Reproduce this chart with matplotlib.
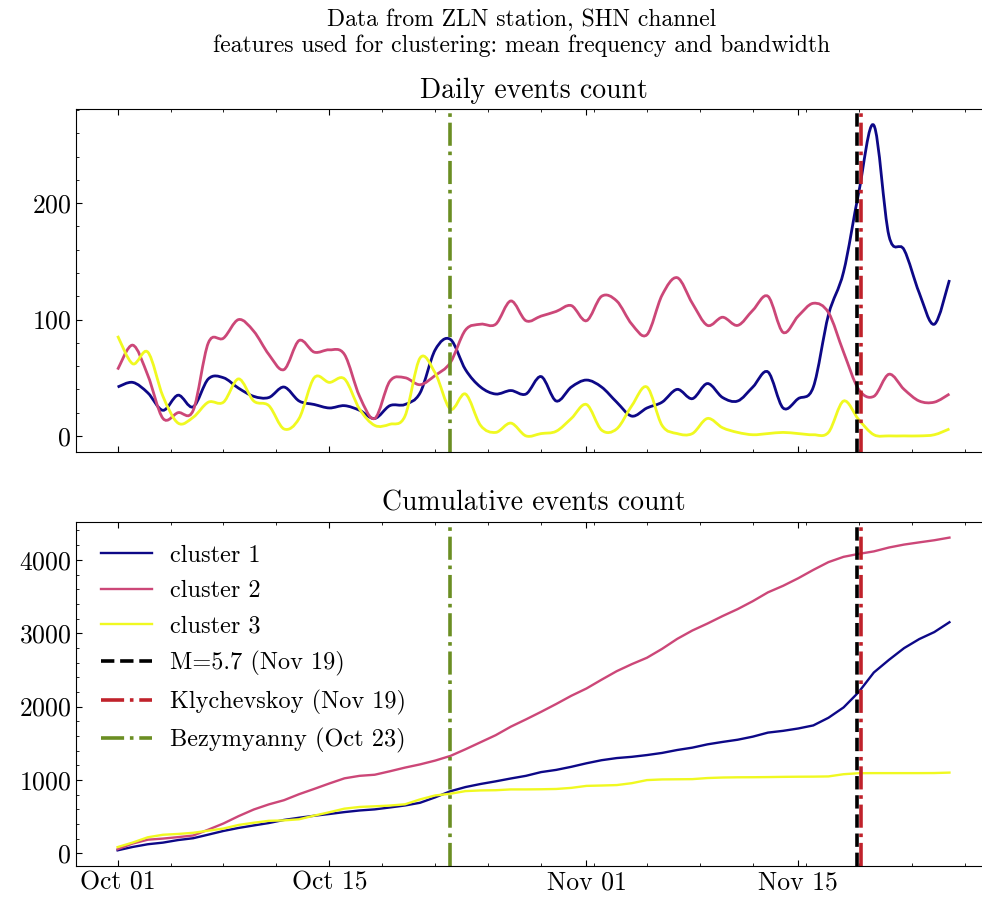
import numpy as np
import pandas as pd
import matplotlib
matplotlib.use("Agg")
import matplotlib.pyplot as plt
import matplotlib.dates as mdates
from matplotlib.path import Path
from matplotlib.patches import PathPatch
from matplotlib.ticker import AutoMinorLocator

# daily event counts per cluster, Oct 01 .. Nov 25
start_date = "2023-10-01"
cluster1 = [42, 46, 37, 22, 35, 25, 49, 50, 41, 34, 33, 42, 30, 27, 24,
            26, 22, 15, 26, 27, 37, 74, 83, 57, 42, 36, 39, 36, 51,
            30, 42, 48, 42, 29, 17, 24, 29, 40, 32, 45, 33, 30, 42,
            55, 24, 32, 42, 104, 141, 209, 267, 172, 160, 123, 96, 134]
cluster2 = [57, 78, 52, 15, 20, 22, 80, 84, 100, 90, 70, 57, 82, 72, 74,
            70, 34, 15, 47, 50, 44, 52, 63, 91, 96, 96, 116, 99, 103,
            107, 112, 99, 120, 116, 96, 87, 121, 136, 114, 95, 102, 95, 108,
            120, 89, 103, 114, 106, 72, 40, 34, 53, 40, 30, 29, 36]
cluster3 = [86, 62, 72, 34, 11, 16, 29, 29, 49, 30, 26, 6, 15, 50, 46,
            49, 23, 9, 10, 17, 67, 54, 23, 36, 9, 3, 11, 0, 2,
            4, 15, 27, 5, 6, 26, 42, 9, 2, 2, 15, 7, 3, 1,
            2, 3, 2, 1, 3, 30, 14, 1, 0, 0, 0, 1, 6]
labels = ["cluster 1", "cluster 2", "cluster 3"]
colors = ["#0d0887", "#cc4778", "#f0f921"]

events = ["M=5.7 (Nov 19)", "Klychevskoy (Nov 19)", "Bezymyanny (Oct 23)"]
event_times = ["2023-11-18 22:00", "2023-11-19 03:00", "2023-10-23 00:00"]
event_colors = ["black", "#c0222b", "#6b8e23"]
event_styles = ["--", "-.", "-."]

plt.rcParams["font.family"] = ["cmr10"]
plt.rcParams["mathtext.fontset"] = "cm"
plt.rcParams["axes.formatter.use_mathtext"] = True
plt.rcParams["xtick.direction"] = "in"
plt.rcParams["ytick.direction"] = "in"
plt.rcParams["xtick.top"] = True
plt.rcParams["ytick.right"] = True


def smooth_path(x, y):
    # Catmull-Rom curve through the daily points, drawn as cubic beziers
    p = np.column_stack([x, y])
    verts = [p[0]]
    codes = [Path.MOVETO]
    n = len(p)
    for i in range(n - 1):
        p0 = p[i - 1] if i > 0 else p[i]
        p1 = p[i]
        p2 = p[i + 1]
        p3 = p[i + 2] if i + 2 < n else p[i + 1]
        verts += [p1 + (p2 - p0) / 6, p2 - (p3 - p1) / 6, p2]
        codes += [Path.CURVE4] * 3
    return Path(verts, codes)


dates = pd.date_range(start_date, periods=len(cluster1))
xnum = mdates.date2num(dates)
series = [cluster1, cluster2, cluster3]

fig = plt.figure(figsize=(9.82, 8.97), dpi=100)
ax1 = fig.add_axes([0.0774, 0.4961, 0.9318, 0.3824])
ax2 = fig.add_axes([0.0774, 0.0346, 0.9318, 0.3835], sharex=ax1)

for vals, c in zip(series, colors):
    ax1.add_patch(PathPatch(smooth_path(xnum, np.array(vals, float)),
                            fill=False, edgecolor=c, lw=2.0))
    ax2.plot(dates, np.cumsum(vals), color=c, lw=1.7)

for ax in (ax1, ax2):
    for t, c, ls in zip(event_times, event_colors, event_styles):
        ax.axvline(pd.Timestamp(t), color=c, ls=ls, lw=2.6)

ax2.legend(ax2.lines, labels + events, loc="upper left",
           bbox_to_anchor=(0.003, 0.998),
           frameon=False, fontsize=17.5, handlelength=2.1, handletextpad=0.75,
           labelspacing=0.55)

ax1.autoscale_view()
ax1.set_title("Daily events count", fontsize=20, pad=8)
ax2.set_title("Cumulative events count", fontsize=20, pad=8)
fig.suptitle("Data from ZLN station, SHN channel\n"
             "features used for clustering: mean frequency and bandwidth",
             x=0.5316, y=0.990, va="top", fontsize=17)

ax2.xaxis.set_major_locator(mdates.DayLocator(bymonthday=[1, 15]))
ax2.xaxis.set_major_formatter(mdates.DateFormatter("%b %d"))
for ax in (ax1, ax2):
    ax.xaxis.set_minor_locator(AutoMinorLocator(4))
    ax.yaxis.set_minor_locator(AutoMinorLocator(5))
    ax.tick_params(which="major", length=4, width=0.8, labelsize=18.5)
    ax.tick_params(which="minor", length=2, width=0.6)
    for s in ax.spines.values():
        s.set_linewidth(0.8)
ax1.tick_params(labelbottom=False)
ax1.set_yticks([0, 100, 200])

fig.savefig("out.png", dpi=100)
